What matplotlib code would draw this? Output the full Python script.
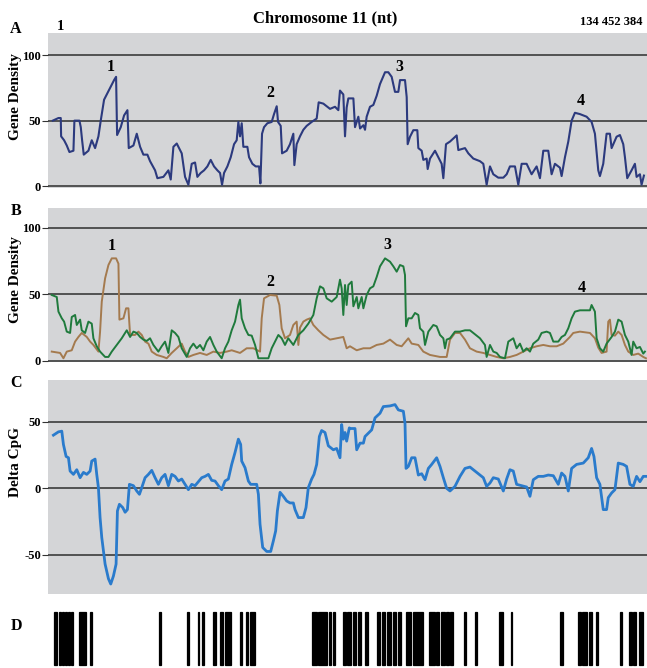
import numpy as np
import matplotlib
matplotlib.use("Agg")
import matplotlib.pyplot as plt

plt.rcParams['font.family'] = ['Liberation Serif', 'DejaVu Serif']

# chromosome 11, positions in Mb
chrom_len = 134.452384

# panel A: gene density, (position, value)
gene_all = [
    (1.27, 50), (2.55, 52), (3.07, 52), (3.15, 38), (3.82, 35), (4.42, 31), (5.02, 26),
    (5.92, 27), (6.14, 50), (7.27, 50), (7.57, 45), (7.87, 35), (8.24, 24), (9.29, 27),
    (10.04, 35), (10.79, 29), (11.54, 38), (12.06, 50), (12.81, 66), (14.16, 75),
    (15.06, 81), (15.51, 83.5), (15.74, 39), (16.56, 45), (17.31, 54), (18.06, 58),
    (18.36, 29), (19.41, 31), (20.16, 40), (20.91, 30), (21.65, 24), (22.55, 24),
    (23.15, 19), (24.28, 12), (24.80, 6), (26.15, 7), (27.27, 12), (27.80, 5), (28.40, 30),
    (29.15, 32.5), (30.27, 25), (31.02, 7), (31.77, 1), (32.52, 17), (33.27, 18),
    (33.79, 7), (34.54, 10), (35.29, 12), (36.04, 15), (36.79, 20), (37.54, 15),
    (38.29, 12), (38.89, 10), (39.34, 1), (39.79, 10), (40.54, 15), (41.29, 22),
    (42.04, 32), (42.63, 35), (43.01, 49), (43.38, 38), (43.76, 48), (44.13, 30),
    (45.03, 30), (45.41, 22), (46.16, 17), (46.91, 15), (47.66, 15), (47.96, 2),
    (48.33, 40), (48.78, 45), (49.53, 48), (50.50, 49), (51.03, 55), (51.63, 61),
    (51.93, 49), (52.53, 46), (52.83, 25), (53.87, 27), (54.62, 32), (55.37, 40),
    (55.60, 16), (56.12, 32), (56.87, 38), (57.62, 43), (58.37, 46), (59.49, 49),
    (60.62, 51.6), (61.07, 64), (62.12, 63), (63.62, 59), (64.74, 60.6), (65.49, 58),
    (65.86, 73), (66.61, 70), (66.99, 38), (67.36, 60), (67.74, 67), (68.87, 67),
    (69.24, 45), (69.99, 53), (70.37, 44), (71.12, 46.5), (71.49, 43), (71.86, 53),
    (72.61, 60.6), (73.36, 62), (74.11, 69), (74.86, 78), (75.99, 87), (76.73, 87),
    (77.48, 83.5), (78.23, 72), (78.98, 72), (79.36, 81), (80.48, 81), (80.86, 68),
    (81.08, 32), (81.61, 37.7), (82.35, 42.7), (83.25, 42.7), (83.48, 29), (84.23, 27),
    (84.60, 20), (85.35, 21), (85.58, 13), (86.10, 21), (87.23, 27), (87.97, 22),
    (88.72, 17), (89.10, 6), (89.70, 32), (90.60, 34), (92.10, 38.7), (92.47, 27.5),
    (93.97, 29), (94.72, 25), (95.84, 21), (97.34, 19), (98.09, 17), (98.84, 1),
    (99.59, 15), (100.34, 9), (101.46, 6.4), (102.59, 6.4), (103.34, 9), (104.08, 15),
    (105.21, 15), (105.96, 1), (106.71, 17), (107.83, 17), (108.95, 9), (110.08, 15),
    (110.83, 6), (111.58, 27), (112.70, 27), (113.45, 9), (114.20, 17), (115.32, 14),
    (115.70, 7.6), (116.45, 22), (117.20, 34), (117.95, 50), (118.69, 56), (119.82, 55),
    (121.32, 53), (122.44, 49), (123.19, 40), (123.94, 12), (124.31, 7.6), (125.06, 17),
    (125.81, 40), (126.56, 40), (126.94, 29), (128.06, 37.7), (128.81, 39), (129.56, 32),
    (129.94, 22), (130.46, 6), (131.43, 12), (132.18, 17), (132.56, 7), (133.31, 9),
    (133.68, 1), (134.21, 8)]

# panel B: green series
gene_green = [
    (1.05, 49.5), (2.17, 48), (2.55, 37), (3.30, 32), (3.82, 29.5), (4.42, 22), (5.17, 21),
    (5.54, 33), (6.29, 34.5), (6.67, 27), (7.42, 31), (7.79, 23), (8.54, 21), (9.29, 29.5),
    (10.04, 28), (10.41, 17), (11.16, 11), (11.91, 7), (13.04, 3), (13.79, 3), (14.54, 7),
    (15.66, 12), (16.78, 17), (17.91, 23), (18.66, 18), (19.41, 22), (20.16, 21),
    (20.91, 18), (21.65, 16), (22.40, 15), (23.15, 17), (23.90, 12), (25.02, 7),
    (25.77, 11), (26.52, 14.5), (27.27, 6), (28.02, 23), (28.77, 21), (29.52, 18),
    (30.27, 9.5), (31.40, 3), (32.14, 9.5), (32.89, 13), (33.64, 9.5), (34.39, 12),
    (35.14, 8), (35.89, 14.5), (36.64, 18), (37.39, 12), (38.14, 7), (39.26, 2),
    (40.01, 9.5), (40.76, 14.5), (41.51, 23), (42.26, 29.5), (43.01, 42), (43.38, 46),
    (43.76, 32), (44.51, 24.5), (45.26, 19.5), (46.01, 19), (46.76, 12), (47.51, 2),
    (48.63, 2), (49.76, 2), (50.50, 9.5), (51.25, 14.5), (52.00, 19.5), (52.75, 17),
    (53.50, 12), (54.23, 17), (55.37, 12), (56.50, 19.5), (57.62, 23), (58.74, 28),
    (59.87, 34.5), (60.62, 47), (61.37, 56), (62.12, 54.5), (62.87, 47), (64.00, 44.5),
    (65.12, 48), (65.86, 61), (66.24, 54.5), (66.61, 34.5), (66.99, 57), (67.36, 42),
    (67.74, 57), (68.49, 59.5), (68.87, 41), (69.62, 48), (69.99, 39.5), (70.74, 48),
    (71.12, 39.5), (71.86, 49.5), (72.61, 54.5), (73.36, 56), (74.11, 63), (74.86, 71),
    (75.99, 77), (77.11, 74.5), (77.86, 71), (78.61, 67), (79.36, 72), (80.11, 71),
    (80.48, 64.5), (80.71, 26), (81.23, 32), (81.98, 32), (82.73, 36), (83.48, 34.5),
    (83.85, 24.5), (84.60, 22), (84.98, 12), (85.73, 22), (86.85, 27), (87.60, 26),
    (88.35, 19.5), (89.10, 17), (89.47, 9.5), (89.85, 16), (90.60, 17), (91.72, 22),
    (92.85, 22), (93.97, 23), (95.09, 23), (95.84, 21), (97.34, 17), (98.46, 12),
    (98.84, 3), (99.59, 12), (100.34, 7), (101.09, 6), (101.83, 3), (102.96, 2),
    (103.71, 14.5), (104.83, 17), (105.58, 9.5), (106.33, 13), (107.08, 7), (107.83, 9.5),
    (108.58, 7), (109.33, 13), (110.45, 16), (111.20, 21), (112.33, 22), (113.08, 21),
    (113.83, 14.5), (114.95, 14.5), (115.70, 18), (116.45, 19.5), (117.20, 24.5),
    (117.95, 32), (118.69, 37), (119.82, 38), (122.07, 38), (122.44, 42), (123.19, 37),
    (123.57, 17), (124.31, 9.5), (125.06, 7), (125.81, 13), (126.94, 18), (127.69, 22),
    (128.44, 31), (129.19, 29.5), (129.94, 19.5), (130.69, 14.5), (131.43, 4.5),
    (131.81, 14.5), (132.56, 9.5), (133.31, 10.5), (134.06, 5.5), (134.43, 7)]

# panel B: brown series
gene_brown = [
    (1.05, 7), (2.92, 6), (3.67, 2), (4.42, 7), (5.54, 8), (6.29, 14.5), (7.04, 18),
    (7.79, 21), (8.92, 18), (9.67, 14.5), (10.41, 12), (11.54, 7), (11.91, 22),
    (12.29, 44.5), (13.04, 62), (13.79, 72), (14.54, 77), (15.51, 77), (16.04, 73),
    (16.26, 31), (17.16, 32), (17.76, 39.5), (18.28, 39.5), (18.66, 19.5), (19.78, 19.5),
    (20.53, 22), (21.28, 19.5), (22.03, 14.5), (22.78, 13), (23.53, 7), (24.65, 4.5),
    (26.15, 3), (26.90, 2), (28.02, 6), (29.15, 9.5), (30.27, 13), (31.02, 7), (31.77, 3),
    (32.89, 4.5), (34.39, 6), (35.89, 4.5), (37.39, 7), (38.89, 6), (40.39, 7),
    (41.51, 8), (43.38, 6), (44.88, 9.5), (46.38, 9.5), (47.88, 7), (48.26, 32),
    (48.78, 47), (50.13, 49.5), (51.63, 49), (52.23, 42), (52.75, 24.5), (53.50, 17),
    (54.62, 19.5), (55.37, 27), (56.12, 29.5), (56.50, 12), (56.87, 25), (57.62, 29.5),
    (58.37, 31), (59.12, 32), (59.87, 27), (60.99, 23), (62.12, 19.5), (63.62, 16),
    (65.12, 17), (66.61, 18), (67.36, 9.5), (68.11, 11), (69.62, 8), (71.12, 9.5),
    (72.61, 9.5), (74.11, 12), (75.61, 13), (77.11, 16), (78.61, 12), (79.73, 11),
    (81.23, 17), (81.98, 13), (83.48, 12), (84.60, 7), (86.10, 4.5), (88.35, 3),
    (89.85, 3), (90.60, 16), (91.72, 21), (92.85, 21), (93.97, 16), (95.09, 9.5),
    (96.59, 7), (98.09, 6), (99.59, 4.5), (101.09, 3), (102.59, 2), (104.08, 3),
    (105.58, 4.5), (107.08, 7), (108.58, 9.5), (110.08, 11), (111.58, 12), (113.08, 11),
    (114.58, 11), (116.07, 13), (117.57, 18), (118.32, 21), (119.82, 22), (122.07, 21),
    (123.19, 17), (123.94, 10), (124.69, 6), (125.81, 7), (126.19, 29.5), (126.56, 31),
    (126.94, 19.5), (127.69, 19), (128.44, 22), (129.19, 19.5), (129.94, 12), (130.69, 7),
    (131.81, 4.5), (132.93, 5.5), (134.06, 3), (134.66, 2)]

# panel C: delta CpG
delta_cpg = [
    (1.42, 40), (2.55, 42.5), (3.30, 43), (3.67, 33), (4.27, 24), (4.80, 23), (5.17, 13),
    (5.92, 10.5), (6.67, 14), (7.42, 8), (8.17, 12), (8.92, 10.5), (9.67, 13),
    (10.04, 20.5), (10.79, 22), (11.16, 10.5), (11.54, 0.5), (11.91, -22), (12.29, -37),
    (13.04, -57), (13.79, -68), (14.31, -72), (14.91, -66), (15.51, -57), (15.81, -17),
    (16.26, -12), (17.01, -14.5), (17.54, -18), (18.06, -16), (18.51, 3), (19.41, 2),
    (20.16, -2), (20.76, -4.5), (21.28, 0.5), (22.03, 8), (22.78, 10.5), (23.53, 13.5),
    (24.28, 8), (25.02, 3), (25.77, 8), (26.52, 10.5), (27.27, 2), (28.02, 10.5),
    (28.77, 9), (29.52, 5.5), (30.27, 7), (31.02, 3), (31.77, -1), (32.52, 3), (33.27, 2),
    (34.02, 5), (34.77, 8), (35.52, 9), (36.27, 10.5), (37.01, 6), (37.76, 5.5),
    (38.51, 2), (39.26, -1), (40.01, 5.5), (40.76, 7), (41.51, 18), (42.26, 27),
    (43.01, 37), (43.53, 33), (43.76, 20.5), (44.51, 15.5), (45.26, 5.5), (45.78, 3),
    (47.13, 3), (47.51, -4.5), (47.88, -27), (48.48, -44.5), (49.38, -47.5),
    (50.28, -47.5), (50.88, -39.5), (51.40, -32), (51.78, -17), (52.38, -3), (53.12, -6),
    (53.87, -9.5), (54.62, -11), (55.37, -11), (55.75, -16), (56.50, -22), (57.62, -22),
    (58.22, -14.5), (58.74, 0.5), (59.49, 7), (60.02, 10.5), (60.62, 18), (61.22, 39),
    (61.74, 43.5), (62.49, 42), (63.24, 32), (64.36, 29), (65.12, 30), (65.86, 23),
    (66.24, 48), (66.61, 37), (66.99, 42), (67.36, 35.5), (67.96, 45.5), (68.12, 45),
    (69.24, 45), (69.62, 29), (70.37, 34), (71.12, 34), (71.49, 39), (72.24, 41.5),
    (72.99, 44), (73.74, 53), (74.86, 56.5), (75.61, 61.5), (77.11, 62), (78.23, 63),
    (78.98, 59), (80.11, 58), (80.48, 49), (80.71, 15), (81.23, 16.5), (81.98, 23),
    (82.73, 23), (83.48, 10), (84.23, 11), (84.98, 6.5), (85.73, 15), (86.48, 18),
    (87.60, 23), (88.35, 16.5), (89.10, 8), (89.85, 0), (90.60, -2), (91.72, 1.5),
    (92.85, 9), (93.97, 15), (95.09, 16), (96.22, 13), (97.34, 10), (98.09, 8),
    (98.84, 1.5), (99.59, 4), (100.34, 8), (101.46, 7), (102.59, -2), (103.34, 7),
    (104.08, 14), (104.83, 13), (105.58, 3), (106.71, 2), (107.83, 1), (108.58, -6),
    (109.33, 6.5), (110.45, 9), (111.58, 9), (112.70, 10), (113.83, 9.5), (114.95, 3),
    (115.70, 11.5), (116.45, 9), (117.20, -2), (117.95, 15), (119.07, 18), (120.57, 19),
    (121.69, 23), (122.44, 30), (122.97, 24), (123.57, 8), (124.31, 3), (125.06, -16),
    (125.81, -16), (126.19, -7), (126.94, -3.5), (127.69, -1), (128.44, 19), (129.56, 18),
    (130.31, 16.5), (131.06, 3), (131.81, 1.5), (132.56, 9), (133.31, 5), (134.06, 9),
    (134.66, 9)]

# panel D: islands (start, end) in Mb
islands = [
    (1.57, 2.32), (2.70, 3.07), (3.37, 3.82), (4.12, 4.50), (4.80, 5.17), (5.39, 5.77),
    (7.19, 8.69), (9.67, 10.11), (25.18, 25.55), (31.47, 32.00), (33.87, 34.24),
    (34.84, 35.29), (37.24, 37.99), (38.89, 39.49), (40.09, 41.29), (43.46, 43.91),
    (44.73, 45.26), (45.63, 46.83), (59.49, 60.62), (60.99, 63.02), (63.39, 63.84),
    (64.36, 64.81), (66.61, 67.14), (67.52, 68.27), (68.72, 69.47), (69.99, 70.52),
    (71.49, 72.24), (74.11, 74.86), (75.24, 75.99), (76.36, 77.26), (77.86, 78.46),
    (78.98, 79.58), (80.71, 81.76), (82.35, 84.60), (85.95, 87.23), (87.45, 88.20),
    (88.57, 89.47), (89.70, 90.45), (90.60, 91.20), (93.82, 94.19), (96.22, 96.74),
    (101.69, 102.44), (104.23, 104.61), (115.32, 116.07), (119.45, 119.97),
    (120.19, 121.32), (121.92, 122.44), (123.42, 123.79), (128.81, 129.26),
    (130.91, 131.43), (131.81, 132.41), (133.16, 133.91)]

peak_labels = ['1', '2', '3', '4']
a_peaks = [(14.4, 91), (50.3, 71), (79.1, 91), (120.0, 65)]
b_peaks = [(14.5, 86), (50.1, 59), (76.6, 87), (120.2, 54.5)]

W, H = 647, 668
fig = plt.figure(figsize=(W / 100, H / 100), dpi=100)
bg = '#d4d5d7'
grid_c = '#2e2e2e'
xlim = (0.2, 134.9)


def pax(x0, y0, x1, y1):
    # axes from a pixel box, origin top left
    return fig.add_axes([x0 / W, 1 - y1 / H, (x1 - x0) / W, (y1 - y0) / H])


def style(ax, ticks, ylim):
    ax.set_facecolor(bg)
    ax.set_xlim(*xlim)
    ax.set_ylim(*ylim)
    for s in ax.spines.values():
        s.set_visible(False)
    ax.set_xticks([])
    ax.set_yticks(ticks)
    ax.set_yticklabels([str(t) for t in ticks], fontweight='bold', fontsize=9)
    ax.tick_params(axis='y', length=4, width=0.8, pad=1, color='#333333')
    for t in ticks:
        ax.axhline(t, color=grid_c, lw=1.1, zorder=1)


def xy(pairs):
    return [p[0] for p in pairs], [p[1] for p in pairs]


axA = pax(48, 33, 647, 188)
style(axA, [0, 50, 100], (-1.5, 117))
axA.plot(*xy(gene_all), color='#2c3a7e', lw=1.5, zorder=3)
for lab, (x, y) in zip(peak_labels, a_peaks):
    axA.text(x, y, lab, ha='center', va='center', fontsize=11.5, fontweight='bold')

axB = pax(48, 208, 647, 362)
style(axB, [0, 50, 100], (-0.8, 114.8))
axB.plot(*xy(gene_brown), color='#a47a4e', lw=1.4, zorder=3)
axB.plot(*xy(gene_green), color='#1f7a3c', lw=1.4, zorder=4)
for lab, (x, y) in zip(peak_labels, b_peaks):
    axB.text(x, y, lab, ha='center', va='center', fontsize=11.5, fontweight='bold')

axC = pax(48, 380, 647, 594)
style(axC, [-50, 0, 50], (-79.5, 81.5))
axC.plot(*xy(delta_cpg), color='#2a7bcc', lw=2.0, zorder=3)

axD = pax(48, 610, 647, 668)
axD.set_xlim(*xlim)
axD.set_ylim(0, 1)
axD.axis('off')
for s, e in islands:
    axD.axvspan(s, e, ymin=0.05, ymax=0.97, facecolor='black', edgecolor='black', lw=0.9)


def ftext(x, y, s, **kw):
    fig.text(x / W, 1 - y / H, s, fontweight='bold', **kw)


ftext(325, 18, 'Chromosome 11 (nt)', ha='center', va='center', fontsize=12)
ftext(60, 27, '1', ha='center', va='center', fontsize=10.5)
ftext(642, 22, '134 452 384', ha='right', va='center', fontsize=9)
ftext(16, 29, 'A', ha='center', va='center', fontsize=11.5)
ftext(16, 211, 'B', ha='center', va='center', fontsize=11.5)
ftext(16, 383, 'C', ha='center', va='center', fontsize=11.5)
ftext(16, 626, 'D', ha='center', va='center', fontsize=11.5)
ftext(16, 97, 'Gene Density', ha='center', va='center', rotation=90, fontsize=11)
ftext(16, 280, 'Gene Density', ha='center', va='center', rotation=90, fontsize=11)
ftext(16, 462, 'Delta CpG', ha='center', va='center', rotation=90, fontsize=11)

fig.savefig('out.png', dpi=100)
